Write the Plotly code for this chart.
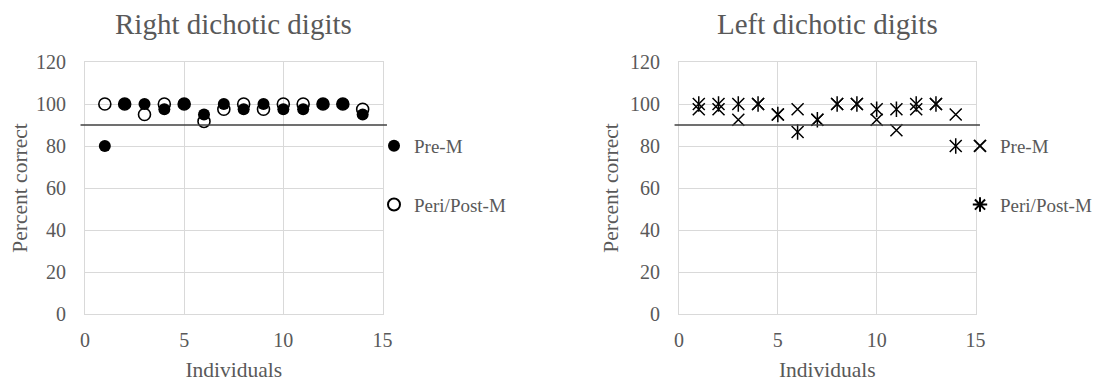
import plotly.graph_objects as go

individuals = list(range(1, 15))
right_pre = [80, 100, 100, 97.5, 100, 95, 100, 97.5, 100, 97.5, 97.5, 100, 100, 95]
right_peri = [100, 100, 95, 100, 100, 91.7, 97.5, 100, 97.5, 100, 100, 100, 100, 97.5]
left_pre = [97.5, 97.5, 92.5, 100, 95, 97.5, 92.5, 100, 100, 92.5, 87.5, 97.5, 100, 95]
left_peri = [100, 100, 100, 100, 95, 86.7, 92.5, 100, 100, 97.5, 97.5, 100, 100, 80]
threshold = 90
titles = ["Right dichotic digits", "Left dichotic digits"]
series_names = ["Pre-M", "Peri/Post-M"]

# page has an 8px body margin; figure sized to fit the 1101x383 window
OFF = 8
FW, FH = 1101 - OFF, 383 - OFF
FONT = "Liberation Serif, Times New Roman, serif"
TXT = "#595959"
GRID = "#d9d9d9"


def pxx(sx):
    return (sx - OFF) / FW


def pyy(sy):
    return 1 - (sy - OFF) / FH


fig = go.Figure()

# Right ear (left panel)
fig.add_trace(go.Scatter(x=individuals, y=right_peri, mode="markers", name=series_names[1],
                         legend="legend", legendgroup="b", legendrank=2,
                         marker=dict(symbol="circle-open", size=12, color="black", line=dict(width=1.6)),
                         xaxis="x", yaxis="y"))
fig.add_trace(go.Scatter(x=individuals, y=right_pre, mode="markers", name=series_names[0],
                         legend="legend", legendgroup="a", legendrank=1,
                         marker=dict(symbol="circle", size=12, color="black"),
                         xaxis="x", yaxis="y"))

# Left ear (right panel)
fig.add_trace(go.Scatter(x=individuals, y=left_pre, mode="markers", name=series_names[0],
                         legend="legend2", legendgroup="c", legendrank=1,
                         marker=dict(symbol="x-thin-open", size=12, color="black", line=dict(width=1.5, color="black")),
                         xaxis="x2", yaxis="y2"))
fig.add_trace(go.Scatter(x=individuals, y=left_peri, mode="markers", name=series_names[1],
                         legend="legend2", legendgroup="d", showlegend=False,
                         marker=dict(symbol="x-thin-open", size=12, color="black", line=dict(width=1.5, color="black")),
                         xaxis="x2", yaxis="y2"))
fig.add_trace(go.Scatter(x=individuals, y=left_peri, mode="markers", name=series_names[1],
                         legend="legend2", legendgroup="d", showlegend=False,
                         marker=dict(symbol="line-ns-open", size=11, color="black", line=dict(width=1.5, color="black")),
                         xaxis="x2", yaxis="y2"))
fig.add_trace(go.Scatter(x=[None], y=[None], mode="markers", name=series_names[1],
                         legend="legend2", legendgroup="d", legendrank=2,
                         marker=dict(symbol="asterisk-open", size=10, color="black", line=dict(width=1.5, color="black")),
                         xaxis="x2", yaxis="y2"))

# threshold lines
for xr, yr in [("x domain", "y"), ("x2 domain", "y2")]:
    fig.add_shape(type="line", xref=xr, yref=yr, x0=-0.015, x1=1.015, y0=threshold, y1=threshold,
                  line=dict(color="#404040", width=1.5), layer="above")

px0, px1 = pxx(85), pxx(382.5)
qx0, qx1 = pxx(679), pxx(975.5)
ybot, ytop = pyy(314), pyy(62)

xcommon = dict(range=[0, 15], dtick=5, tick0=0, showgrid=True, gridcolor=GRID, gridwidth=1,
               zeroline=False, showline=True, linecolor=GRID, mirror=True, ticks="",
               ticklabelstandoff=8, automargin=False,
               tickfont=dict(family=FONT, size=20, color=TXT),
               title=dict(text="Individuals", font=dict(family=FONT, size=21.5, color=TXT), standoff=11))
ycommon = dict(range=[0, 120], dtick=20, tick0=0, showgrid=True, gridcolor=GRID, gridwidth=1,
               zeroline=False, showline=True, linecolor=GRID, mirror=True, ticks="",
               ticklabelstandoff=14, automargin=False,
               tickfont=dict(family=FONT, size=20, color=TXT),
               title=dict(text="Percent correct", font=dict(family=FONT, size=21.5, color=TXT), standoff=5))

leg = dict(xanchor="left", yanchor="top", font=dict(family=FONT, size=19, color=TXT),
           itemwidth=30, traceorder="grouped", tracegroupgap=31, bgcolor="rgba(0,0,0,0)",
           itemsizing="constant", borderwidth=0)

fig.update_layout(
    width=FW, height=FH, margin=dict(l=0, r=0, t=0, b=0, autoexpand=False),
    paper_bgcolor="white", plot_bgcolor="white",
    xaxis=dict(domain=[px0, px1], anchor="y", **xcommon),
    yaxis=dict(domain=[ybot, ytop], anchor="x", **ycommon),
    xaxis2=dict(domain=[qx0, qx1], anchor="y2", **xcommon),
    yaxis2=dict(domain=[ybot, ytop], anchor="x2", **ycommon),
    legend=dict(x=pxx(366 + OFF), y=pyy(127), **leg),
    legend2=dict(x=pxx(952 + OFF), y=pyy(127), **leg),
    showlegend=True,
)

for t, (a, b) in zip(titles, [(px0, px1), (qx0, qx1)]):
    fig.add_annotation(text=t, x=(a + b) / 2, y=pyy(24), xref="paper", yref="paper",
                       showarrow=False, xanchor="center", yanchor="middle",
                       font=dict(family=FONT, size=29, color=TXT))

fig.write_html("out.html")
